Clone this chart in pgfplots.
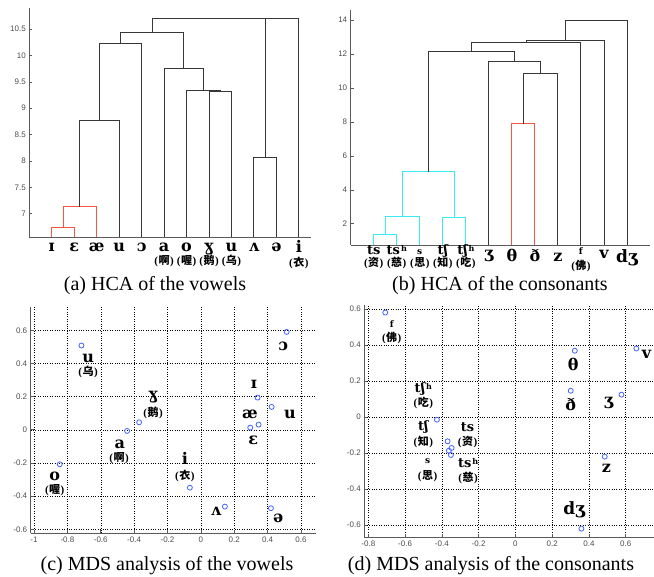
\documentclass[border=0pt]{standalone}
\usepackage{pgfplots}
\pgfplotsset{compat=1.18}
\usepackage{fontspec}
\setmainfont{Liberation Serif}
\newfontfamily\cjk{Noto Sans CJK SC}
\newfontfamily\tickf{Liberation Sans}
\newfontfamily\ipaf{DejaVu Serif}

\definecolor{dk}{RGB}{55,55,55}
\definecolor{rd}{RGB}{245,85,65}
\definecolor{cy}{RGB}{60,235,240}
\definecolor{bl}{RGB}{70,100,255}
\definecolor{ax}{RGB}{90,90,90}

% IPA symbol at a given size, Chinese gloss in brackets
\newcommand{\IPA}[2]{{\ipaf\bfseries\fontsize{#1}{#1}\selectfont #2}}
\newcommand{\ZH}[1]{{\bfseries\fontsize{11}{11}\selectfont(\kern0.5pt{\cjk #1}\kern0.5pt)}}
\newcommand{\hh}{{\fontsize{8}{8}\selectfont\kern1pt\raisebox{3.5pt}{h}}}

\pgfplotsset{
  base/.style={
    scale only axis, clip=false,
    axis x line*=bottom, axis y line*=left,
    axis line style={ax, line width=0.8pt, -},
    tick align=inside, major tick length=3pt,
    tick style={ax, line width=0.6pt},
    tick label style={font=\tickf\fontsize{8}{8}\selectfont, text=black!70},
    /pgf/number format/assume math mode=true,
  },
  dendro/.style={base, xtick=\empty,
    every axis plot/.append style={line width=0.9pt}},
  mds/.style={base, grid=major,
    grid style={black, line width=0.5pt, dash pattern=on 0.8pt off 1.6pt}},
}
\tikzset{lab/.style={anchor=base, inner sep=0pt}}

\begin{document}
\begin{tikzpicture}
\path[use as bounding box] (0,0) rectangle (654pt,577pt);

% (a) HCA of the vowels
\begin{axis}[dendro, at={(29.3pt,340pt)}, anchor=south west,
  width=281.7pt, height=229pt,
  xmin=0, xmax=12.54, ymin=6.56, ymax=10.9,
  ytick={7,7.5,8,8.5,9,9.5,10,10.5}]
\addplot[rd] coordinates {(1,6.56) (1,6.75) (2,6.75) (2,6.56)};
\addplot[rd] coordinates {(1.5,6.75) (1.5,7.13) (3,7.13) (3,6.56)};
\addplot[dk] coordinates {(2.25,7.13) (2.25,8.76) (4,8.76) (4,6.56)};
\addplot[dk] coordinates {(3.125,8.76) (3.125,10.22) (5,10.22) (5,6.56)};
\addplot[dk] coordinates {(8,6.56) (8,9.32) (9,9.32) (9,6.56)};
\addplot[dk] coordinates {(7,6.56) (7,9.33) (8.5,9.33) (8.5,9.32)};
\addplot[dk] coordinates {(6,6.56) (6,9.76) (7.75,9.76) (7.75,9.33)};
\addplot[dk] coordinates {(4.0625,10.22) (4.0625,10.43) (6.875,10.43) (6.875,9.76)};
\addplot[dk] coordinates {(10,6.56) (10,8.07) (11,8.07) (11,6.56)};
\addplot[dk] coordinates {(5.46875,10.43) (5.46875,10.70) (10.5,10.70) (10.5,8.07)};
\addplot[dk] coordinates {(7.984,10.70) (7.984,10.71) (12,10.71) (12,6.56)};
\node[lab, yshift=-15pt] at (axis cs:1,6.56) {\IPA{16}{ɪ}};
\node[lab, yshift=-15pt] at (axis cs:2,6.56) {\IPA{16}{ɛ}};
\node[lab, yshift=-15pt] at (axis cs:3,6.56) {\IPA{16}{æ}};
\node[lab, yshift=-15pt] at (axis cs:4,6.56) {\IPA{16}{u}};
\node[lab, yshift=-15pt] at (axis cs:5,6.56) {\IPA{16}{ɔ}};
\node[lab, yshift=-15pt] at (axis cs:6,6.56) {\IPA{16}{a}};
\node[lab, yshift=-15pt] at (axis cs:7,6.56) {\IPA{16}{o}};
\node[lab, yshift=-15pt] at (axis cs:8,6.56) {\IPA{16}{ɣ}};
\node[lab, yshift=-15pt] at (axis cs:9,6.56) {\IPA{16}{u}};
\node[lab, yshift=-15pt] at (axis cs:10,6.56) {\IPA{16}{ʌ}};
\node[lab, yshift=-15pt] at (axis cs:11,6.56) {\IPA{16}{ə}};
\node[lab, yshift=-16pt] at (axis cs:12,6.56) {\IPA{16}{i}};
\node[lab, yshift=-28pt] at (axis cs:6,6.56) {\ZH{啊}};
\node[lab, yshift=-28pt] at (axis cs:7,6.56) {\ZH{喔}};
\node[lab, yshift=-28pt] at (axis cs:8,6.56) {\ZH{鹅}};
\node[lab, yshift=-28pt] at (axis cs:9,6.56) {\ZH{乌}};
\node[lab, yshift=-30pt] at (axis cs:12,6.56) {\ZH{衣}};
\end{axis}

% (b) HCA of the consonants
\begin{axis}[dendro, at={(350.7pt,332pt)}, anchor=south west,
  width=299.3pt, height=235pt,
  xmin=0, xmax=13, ymin=0.75, ymax=14.59,
  ytick={2,4,6,8,10,12,14}]
\addplot[cy] coordinates {(1,0.75) (1,1.35) (2,1.35) (2,0.75)};
\addplot[cy] coordinates {(1.5,1.35) (1.5,2.45) (3,2.45) (3,0.75)};
\addplot[cy] coordinates {(4,0.75) (4,2.38) (5,2.38) (5,0.75)};
\addplot[cy] coordinates {(2.25,2.45) (2.25,5.06) (4.5,5.06) (4.5,2.38)};
\addplot[rd] coordinates {(7,0.75) (7,7.89) (8,7.89) (8,0.75)};
\addplot[dk] coordinates {(7.5,7.89) (7.5,10.86) (9,10.86) (9,0.75)};
\addplot[dk] coordinates {(6,0.75) (6,11.55) (8.25,11.55) (8.25,10.86)};
\addplot[dk] coordinates {(3.375,5.06) (3.375,12.16) (7.125,12.16) (7.125,11.55)};
\addplot[dk] coordinates {(5.25,12.16) (5.25,12.69) (10,12.69) (10,0.75)};
\addplot[dk] coordinates {(7.625,12.69) (7.625,12.81) (11,12.81) (11,0.75)};
\addplot[dk] coordinates {(9.3125,12.81) (9.3125,13.98) (12,13.98) (12,0.75)};
\node[lab, yshift=-10pt] at (axis cs:1,0.75) {\IPA{13}{ts}};
\node[lab, yshift=-10pt] at (axis cs:2,0.75) {\IPA{13}{ts\hh}};
\node[lab, yshift=-10pt] at (axis cs:3,0.75) {\IPA{9}{s}};
\node[lab, yshift=-10pt] at (axis cs:4,0.75) {\IPA{13}{tʃ}};
\node[lab, yshift=-10pt] at (axis cs:5,0.75) {\IPA{13}{tʃ\hh}};
\node[lab, yshift=-14pt] at (axis cs:6,0.75) {\IPA{16}{ʒ}};
\node[lab, yshift=-17pt] at (axis cs:7,0.75) {\IPA{16}{θ}};
\node[lab, yshift=-17pt] at (axis cs:8,0.75) {\IPA{16}{ð}};
\node[lab, yshift=-17pt] at (axis cs:9,0.75) {\IPA{16}{z}};
\node[lab, yshift=-10pt] at (axis cs:10,0.75) {\IPA{9}{f}};
\node[lab, yshift=-14pt] at (axis cs:11,0.75) {\IPA{16}{v}};
\node[lab, yshift=-18pt] at (axis cs:12,0.75) {\IPA{17}{dʒ}};
\node[lab, yshift=-22pt] at (axis cs:1,0.75) {\ZH{资}};
\node[lab, yshift=-22pt] at (axis cs:2,0.75) {\ZH{慈}};
\node[lab, yshift=-22pt] at (axis cs:3,0.75) {\ZH{思}};
\node[lab, yshift=-22pt] at (axis cs:4,0.75) {\ZH{知}};
\node[lab, yshift=-22pt] at (axis cs:5,0.75) {\ZH{吃}};
\node[lab, yshift=-25pt] at (axis cs:10,0.75) {\ZH{佛}};
\end{axis}

% (c) MDS analysis of the vowels
\begin{axis}[mds, at={(30.7pt,43.7pt)}, anchor=south west,
  width=285.3pt, height=226.6pt,
  xmin=-1.02, xmax=0.69, ymin=-0.624, ymax=0.742,
  xtick={-1,-0.8,-0.6,-0.4,-0.2,0,0.2,0.4,0.6},
  ytick={-0.6,-0.4,-0.2,0,0.2,0.4,0.6}]
\addplot[only marks, mark=o, mark size=2.5pt, bl, line width=0.8pt] coordinates {
  (-0.716,0.508) (0.514,0.590) (0.340,0.194) (0.424,0.138)
  (0.296,0.013) (0.346,0.031) (-0.370,0.045) (-0.442,-0.007)
  (-0.846,-0.208) (-0.066,-0.349) (0.144,-0.463) (0.420,-0.473)};
\node[inner sep=0pt] at (axis cs:-0.676,0.431) {\IPA{16}{u}};
\node[inner sep=0pt] at (axis cs:-0.676,0.351) {\ZH{乌}};
\node[inner sep=0pt] at (axis cs:-0.286,0.196) {\IPA{16}{ɣ}};
\node[inner sep=0pt] at (axis cs:-0.286,0.104) {\ZH{鹅}};
\node[inner sep=0pt] at (axis cs:-0.486,-0.085) {\IPA{16}{a}};
\node[inner sep=0pt] at (axis cs:-0.490,-0.172) {\ZH{啊}};
\node[inner sep=0pt] at (axis cs:-0.876,-0.278) {\IPA{16}{o}};
\node[inner sep=0pt] at (axis cs:-0.876,-0.363) {\ZH{喔}};
\node[inner sep=0pt] at (axis cs:-0.096,-0.172) {\IPA{16}{i}};
\node[inner sep=0pt] at (axis cs:-0.096,-0.278) {\ZH{衣}};
\node[inner sep=0pt] at (axis cs:0.090,-0.493) {\IPA{16}{ʌ}};
\node[inner sep=0pt] at (axis cs:0.464,-0.534) {\IPA{16}{ə}};
\node[inner sep=0pt] at (axis cs:0.494,0.502) {\IPA{16}{ɔ}};
\node[inner sep=0pt] at (axis cs:0.318,0.274) {\IPA{16}{ɪ}};
\node[inner sep=0pt] at (axis cs:0.294,0.095) {\IPA{16}{æ}};
\node[inner sep=0pt] at (axis cs:0.534,0.093) {\IPA{16}{u}};
\node[inner sep=0pt] at (axis cs:0.314,-0.065) {\IPA{16}{ɛ}};
\end{axis}

% (d) MDS analysis of the consonants
\begin{axis}[mds, at={(364.3pt,39.7pt)}, anchor=south west,
  width=289.7pt, height=232.3pt,
  xmin=-0.822, xmax=0.754, ymin=-0.668, ymax=0.622,
  xtick={-0.8,-0.6,-0.4,-0.2,0,0.2,0.4,0.6},
  ytick={-0.6,-0.4,-0.2,0,0.2,0.4,0.6}]
\addplot[only marks, mark=o, mark size=2.5pt, bl, line width=0.8pt] coordinates {
  (-0.708,0.580) (0.323,0.368) (0.658,0.380) (0.301,0.146)
  (0.577,0.124) (-0.427,-0.015) (-0.369,-0.135) (-0.347,-0.172)
  (-0.362,-0.187) (-0.351,-0.211) (0.486,-0.220) (0.359,-0.620)};
\node[inner sep=0pt] at (axis cs:-0.673,0.515) {\IPA{9}{f}};
\node[inner sep=0pt] at (axis cs:-0.673,0.437) {\ZH{佛}};
\node[inner sep=0pt] at (axis cs:0.314,0.289) {\IPA{16}{θ}};
\node[inner sep=0pt] at (axis cs:0.713,0.350) {\IPA{16}{v}};
\node[inner sep=0pt] at (axis cs:0.301,0.067) {\IPA{16}{ð}};
\node[inner sep=0pt] at (axis cs:0.508,0.076) {\IPA{16}{ʒ}};
\node[inner sep=0pt] at (axis cs:0.495,-0.285) {\IPA{16}{z}};
\node[inner sep=0pt] at (axis cs:0.320,-0.517) {\IPA{17}{dʒ}};
\node[inner sep=0pt] at (axis cs:-0.501,0.154) {\IPA{13}{tʃ\hh}};
\node[inner sep=0pt] at (axis cs:-0.501,0.076) {\ZH{吃}};
\node[inner sep=0pt] at (axis cs:-0.501,-0.057) {\IPA{13}{tʃ}};
\node[inner sep=0pt] at (axis cs:-0.501,-0.137) {\ZH{知}};
\node[inner sep=0pt] at (axis cs:-0.260,-0.054) {\IPA{13}{ts}};
\node[inner sep=0pt] at (axis cs:-0.260,-0.137) {\ZH{资}};
\node[inner sep=0pt] at (axis cs:-0.478,-0.248) {\IPA{9}{s}};
\node[inner sep=0pt] at (axis cs:-0.478,-0.326) {\ZH{思}};
\node[inner sep=0pt] at (axis cs:-0.257,-0.257) {\IPA{13}{ts\hh}};
\node[inner sep=0pt] at (axis cs:-0.257,-0.337) {\ZH{慈}};
\end{axis}

% captions
\node[anchor=base, font=\fontsize{20}{20}\selectfont] at (155pt,286pt) {(a) HCA of the vowels};
\node[anchor=base, font=\fontsize{20}{20}\selectfont] at (500pt,286pt) {(b) HCA of the consonants};
\node[anchor=base, font=\fontsize{20}{20}\selectfont] at (167pt,6pt) {(c) MDS analysis of the vowels};
\node[anchor=base, font=\fontsize{20}{20}\selectfont] at (491pt,6pt) {(d) MDS analysis of the consonants};
\end{tikzpicture}
\end{document}
